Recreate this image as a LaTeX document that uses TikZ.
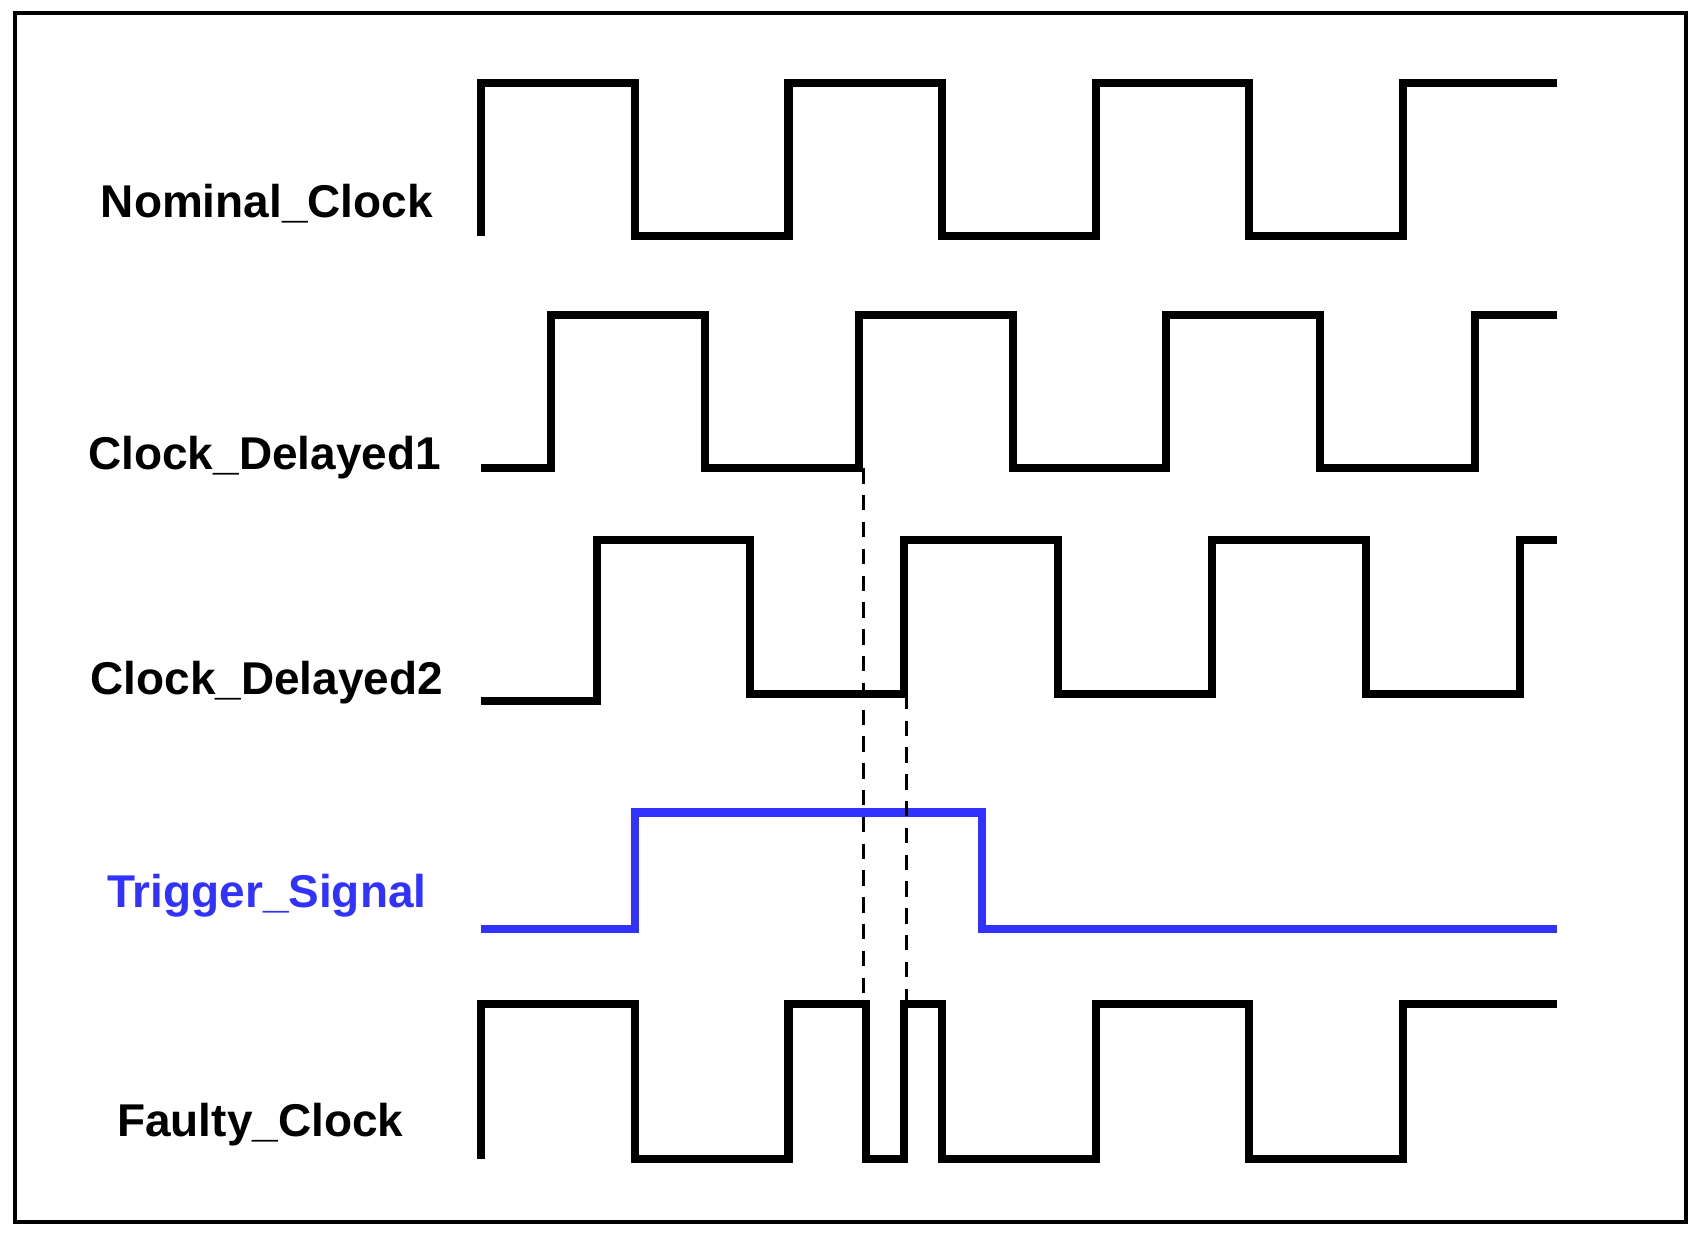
\documentclass[tikz,border=0pt]{standalone}
\usepackage{fontspec}
\setmainfont{Liberation Sans}
\begin{document}
\begin{tikzpicture}[x=0.01cm,y=-0.01cm,
  sig/.style={line width=2.1pt,line join=miter},
  lbl/.style={font=\bfseries\fontsize{12}{14}\selectfont},
  dsh/.style={dashed,line width=0.8pt,dash pattern=on 4pt off 3pt}]
\useasboundingbox (0,0) rectangle (1560,1141);
\draw[line width=1pt] (14,12) rectangle (1548,1122);
\node[lbl] (n1) at (245,187) {Nominal\_Clock};
\node[lbl] (n2) at (243,420) {Clock\_Delayed1};
\node[lbl] (n3) at (245,627) {Clock\_Delayed2};
\node[lbl,text={rgb,255:red,50;green,50;blue,255}] (n4) at (245,822) {Trigger\_Signal};
\node[lbl] (n5) at (239,1033) {Faulty\_Clock};
\draw[sig] (442,217) -- (442,76) -- (583,76) -- (583,217) -- (724,217) -- (724,76) -- (865,76) -- (865,217) -- (1006,217) -- (1006,76) -- (1147,76) -- (1147,217) -- (1288,217) -- (1288,76) -- (1430,76);
\draw[sig] (442,430) -- (506,430) -- (506,289) -- (647,289) -- (647,430) -- (789,430) -- (789,289) -- (930,289) -- (930,430) -- (1071,430) -- (1071,289) -- (1212,289) -- (1212,430) -- (1354,430) -- (1354,289) -- (1430,289);
\draw[sig] (442,644) -- (548,644) -- (548,496) -- (689,496) -- (689,637) -- (830,637) -- (830,496) -- (971,496) -- (971,637) -- (1113,637) -- (1113,496) -- (1254,496) -- (1254,637) -- (1396,637) -- (1396,496) -- (1430,496);
\draw[sig,draw={rgb,255:red,50;green,50;blue,255}] (442,853) -- (583,853) -- (583,746) -- (902,746) -- (902,853) -- (1430,853);
\draw[sig] (442,1064) -- (442,922) -- (583,922) -- (583,1064) -- (724,1064) -- (724,922) -- (795,922) -- (795,1064) -- (830,1064) -- (830,922) -- (865,922) -- (865,1064) -- (1006,1064) -- (1006,922) -- (1147,922) -- (1147,1064) -- (1288,1064) -- (1288,922) -- (1430,922);
\coordinate (d1a) at (793,430); \coordinate (d1b) at (793,922);
\coordinate (d2a) at (832,637); \coordinate (d2b) at (832,922);
\draw[dsh] (d1a) -- (d1b);
\draw[dsh] (d2a) -- (d2b);
\end{tikzpicture}
\end{document}
